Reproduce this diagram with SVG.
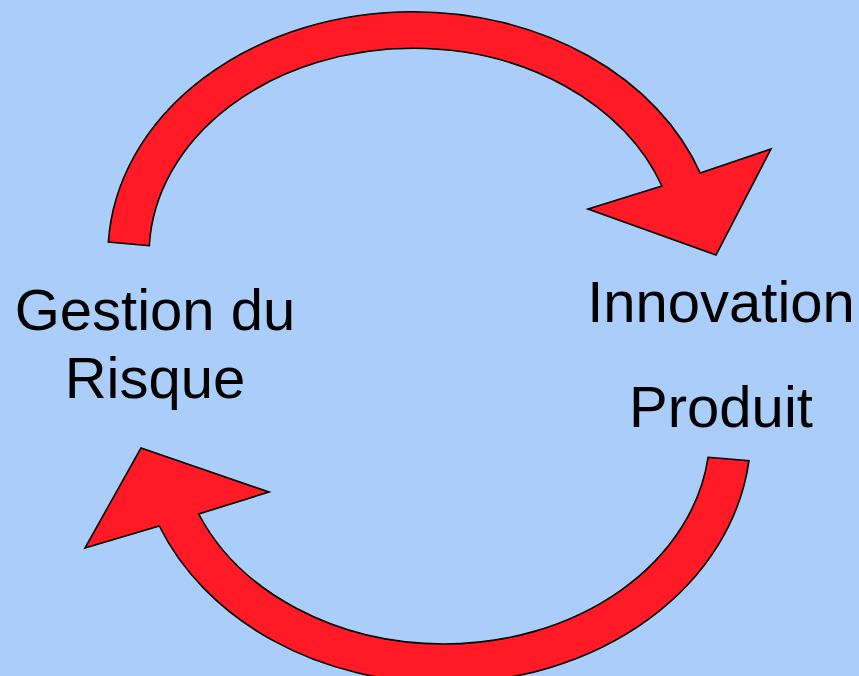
<svg xmlns="http://www.w3.org/2000/svg" width="859" height="676" viewBox="0 0 859 676">
  <style>
    .bg { fill: #ABCDF9; }
    .arrow { fill: #FF1A25; stroke: #000000; stroke-width: 1.6; stroke-linejoin: miter; }
    .label { font-family: "Liberation Sans", Arial, sans-serif; font-size: 58px; fill: #000000; text-anchor: middle; }
  </style>
  <rect class="bg" x="0" y="0" width="859" height="676"/>
  <g id="connectors">
    <path id="arrow-top" class="arrow" d="M 108.4,242 A 305 243.3 0 0 1 413,11.7 A 305 243.3 0 0 1 700.2,173 L 771,149 L 716,255 L 588,209 L 661.9,186 A 264 206.7 0 0 0 413,48.3 A 264 206.7 0 0 0 149.3,245.7 Z"/>
    <path id="arrow-bottom" class="arrow" d="M 749,460.7 A 307 251 0 0 1 444,683 A 307 251 0 0 1 159.3,526 L 85,548 L 141,448 L 269,492 L 198.7,514 A 266 212 0 0 0 444,644 A 266 212 0 0 0 708.1,457.3 Z"/>
  </g>
  <g id="node-gestion">
    <text class="label" x="155" y="330">Gestion du</text>
    <text class="label" x="155" y="398">Risque</text>
  </g>
  <g id="node-innovation">
    <text class="label" x="721" y="322">Innovation</text>
    <text class="label" x="721" y="427">Produit</text>
  </g>
</svg>
